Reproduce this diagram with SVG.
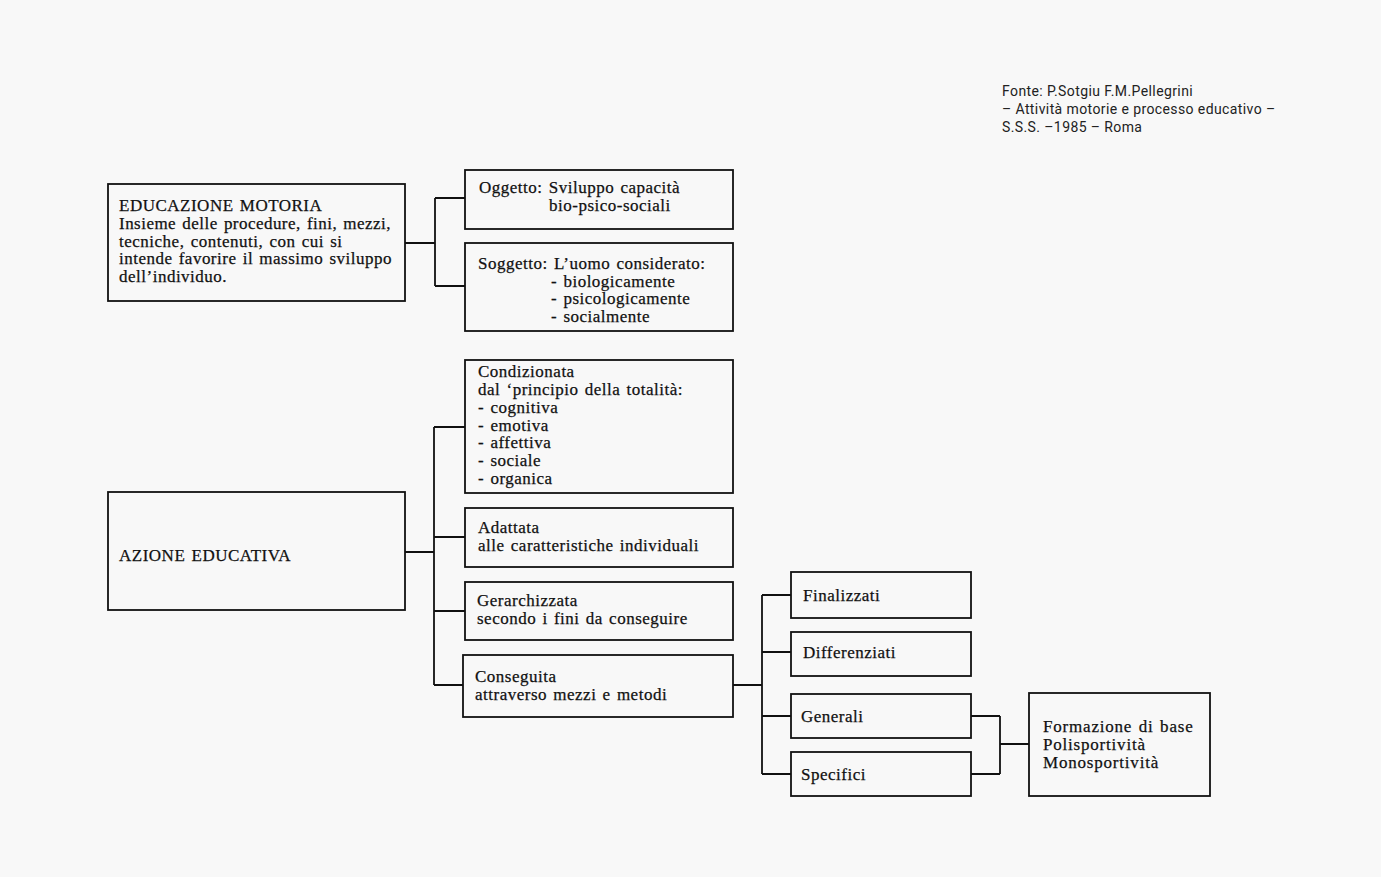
<svg xmlns="http://www.w3.org/2000/svg" width="1381" height="877" viewBox="0 0 1381 877">
<style>
.bg{fill:#f8f8f8}
.box{fill:none;stroke:#111;stroke-width:1.8}
.ln{fill:none;stroke:#111;stroke-width:1.8}
.t{font-family:"Liberation Serif","Times New Roman",serif;font-size:17px;letter-spacing:0.5px;word-spacing:1.5px;fill:#111;stroke:#111;stroke-width:0.25}
.s{font-family:Roboto,"Liberation Sans",sans-serif;font-size:14px;letter-spacing:0.4px;fill:#222}
</style>
<rect class="bg" x="0" y="0" width="1381" height="877"/>
<g id="source">
<text class="s" x="1002" y="96">Fonte: P.Sotgiu F.M.Pellegrini</text>
<text class="s" x="1002" y="114">– Attività motorie e processo educativo –</text>
<text class="s" x="1002" y="132">S.S.S. –1985 – Roma</text>
</g>
<g id="connectors">
<path class="ln" d="M405 243H435M435 198V286M435 198H465M435 286H465"/>
<path class="ln" d="M405 552H434M434 427V685M434 427H465M434 537H465M434 611H465M434 685H463"/>
<path class="ln" d="M733 685H762M762 595V774M762 595H791M762 652H791M762 716H791M762 774H791"/>
<path class="ln" d="M971 716H1000M971 774H1000M1000 716V774M1000 744H1029"/>
</g>
<g id="educazione-motoria">
<rect class="box" x="108" y="184" width="297" height="117"/>
<text class="t" x="119" y="211">EDUCAZIONE MOTORIA</text>
<text class="t" x="119" y="229" textLength="272" lengthAdjust="spacing">Insieme delle procedure, fini, mezzi,</text>
<text class="t" x="119" y="247">tecniche, contenuti, con cui si</text>
<text class="t" x="119" y="264" textLength="273" lengthAdjust="spacing">intende favorire il massimo sviluppo</text>
<text class="t" x="119" y="282">dell’individuo.</text>
</g>
<g id="oggetto">
<rect class="box" x="465" y="170" width="268" height="59"/>
<text class="t" x="479" y="193">Oggetto: Sviluppo capacità</text>
<text class="t" x="549" y="211">bio-psico-sociali</text>
</g>
<g id="soggetto">
<rect class="box" x="465" y="243" width="268" height="88"/>
<text class="t" x="478" y="269">Soggetto: L’uomo considerato:</text>
<text class="t" x="551" y="287">- biologicamente</text>
<text class="t" x="551" y="304">- psicologicamente</text>
<text class="t" x="551" y="322">- socialmente</text>
</g>
<g id="azione-educativa">
<rect class="box" x="108" y="492" width="297" height="118"/>
<text class="t" x="119" y="561">AZIONE EDUCATIVA</text>
</g>
<g id="condizionata">
<rect class="box" x="465" y="360" width="268" height="133"/>
<text class="t" x="478" y="377">Condizionata</text>
<text class="t" x="478" y="395">dal ‘principio della totalità:</text>
<text class="t" x="478" y="413">- cognitiva</text>
<text class="t" x="478" y="431">- emotiva</text>
<text class="t" x="478" y="448">- affettiva</text>
<text class="t" x="478" y="466">- sociale</text>
<text class="t" x="478" y="484">- organica</text>
</g>
<g id="adattata">
<rect class="box" x="465" y="508" width="268" height="59"/>
<text class="t" x="478" y="533">Adattata</text>
<text class="t" x="478" y="551">alle caratteristiche individuali</text>
</g>
<g id="gerarchizzata">
<rect class="box" x="465" y="582" width="268" height="58"/>
<text class="t" x="477" y="606">Gerarchizzata</text>
<text class="t" x="477" y="624">secondo i fini da conseguire</text>
</g>
<g id="conseguita">
<rect class="box" x="463" y="655" width="270" height="62"/>
<text class="t" x="475" y="682">Conseguita</text>
<text class="t" x="475" y="700">attraverso mezzi e metodi</text>
</g>
<g id="finalizzati">
<rect class="box" x="791" y="572" width="180" height="46"/>
<text class="t" x="803" y="601">Finalizzati</text>
</g>
<g id="differenziati">
<rect class="box" x="791" y="632" width="180" height="44"/>
<text class="t" x="803" y="658">Differenziati</text>
</g>
<g id="generali">
<rect class="box" x="791" y="694" width="180" height="44"/>
<text class="t" x="801" y="722">Generali</text>
</g>
<g id="specifici">
<rect class="box" x="791" y="752" width="180" height="44"/>
<text class="t" x="801" y="780">Specifici</text>
</g>
<g id="formazione">
<rect class="box" x="1029" y="693" width="181" height="103"/>
<text class="t" x="1043" y="732" style="letter-spacing:0.8px">Formazione di base</text>
<text class="t" x="1043" y="750" style="letter-spacing:0.8px">Polisportività</text>
<text class="t" x="1043" y="768" style="letter-spacing:0.8px">Monosportività</text>
</g>
</svg>
